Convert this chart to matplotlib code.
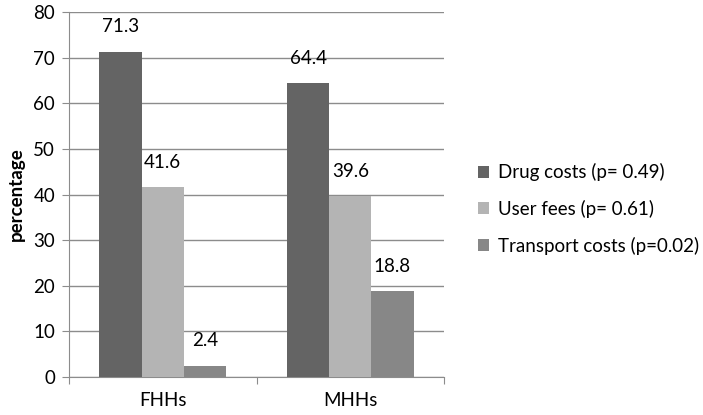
import matplotlib
matplotlib.use("Agg")
import matplotlib.pyplot as plt
import numpy as np

categories = ["FHHs", "MHHs"]
series_names = ["Drug costs (p= 0.49)", "User fees (p= 0.61)", "Transport costs (p=0.02)"]
drug = [71.3, 64.4]
user = [41.6, 39.6]
transport = [2.4, 18.8]
colors = ["#646464", "#b4b4b4", "#878787"]
yticks = [0, 10, 20, 30, 40, 50, 60, 70, 80]

plt.rcParams['font.family'] = ['Lato', 'DejaVu Sans']
FS = 13.5

fig = plt.figure(figsize=(7.03, 4.15), dpi=100)
ax = fig.add_axes([69/703, 1-377/415, (444-69)/703, (377-12)/415])

x = np.arange(len(categories))
w = 0.225
grid_c = "#8c8c8c"
for i, (vals, name, c) in enumerate(zip([drug, user, transport], series_names, colors)):
    bars = ax.bar(x + (i-1)*w, vals, w, color=c, label=name, zorder=3)
    for b, v in zip(bars, vals):
        ax.annotate(f"{v}", (b.get_x()+b.get_width()/2, v), xytext=(0, 12),
                    textcoords="offset points", ha="center", va="bottom",
                    fontsize=FS, color="#000000", zorder=4)

ax.set_xlim(-0.5, 1.5)
ax.set_ylim(0, 80)
ax.set_yticks(yticks)
ax.yaxis.grid(True, color=grid_c, linewidth=1.0, zorder=0)
ax.set_axisbelow(True)
ax.set_xticks([-0.5, 0.5, 1.5])
ax.set_xticklabels([])
ax.set_xticks(x, minor=True)
ax.set_xticklabels(categories, minor=True, fontsize=FS)
ax.tick_params(axis='x', which='minor', length=0, pad=11)
ax.tick_params(axis='x', which='major', length=5, color=grid_c, direction='out')
ax.tick_params(axis='y', length=5, color=grid_c, labelsize=FS, pad=5)
for s in ["top", "right"]:
    ax.spines[s].set_visible(False)
ax.spines["left"].set_color(grid_c)
ax.spines["bottom"].set_color(grid_c)
ax.set_ylabel("percentage", fontsize=FS, fontweight="bold", labelpad=6)

leg = fig.legend(loc="center left", bbox_to_anchor=(461/703, 1-209/415), frameon=False,
                 fontsize=FS, handlelength=0.6, handleheight=0.6, handletextpad=0.45,
                 labelspacing=1.0)

fig.savefig("out.png", dpi=100)
